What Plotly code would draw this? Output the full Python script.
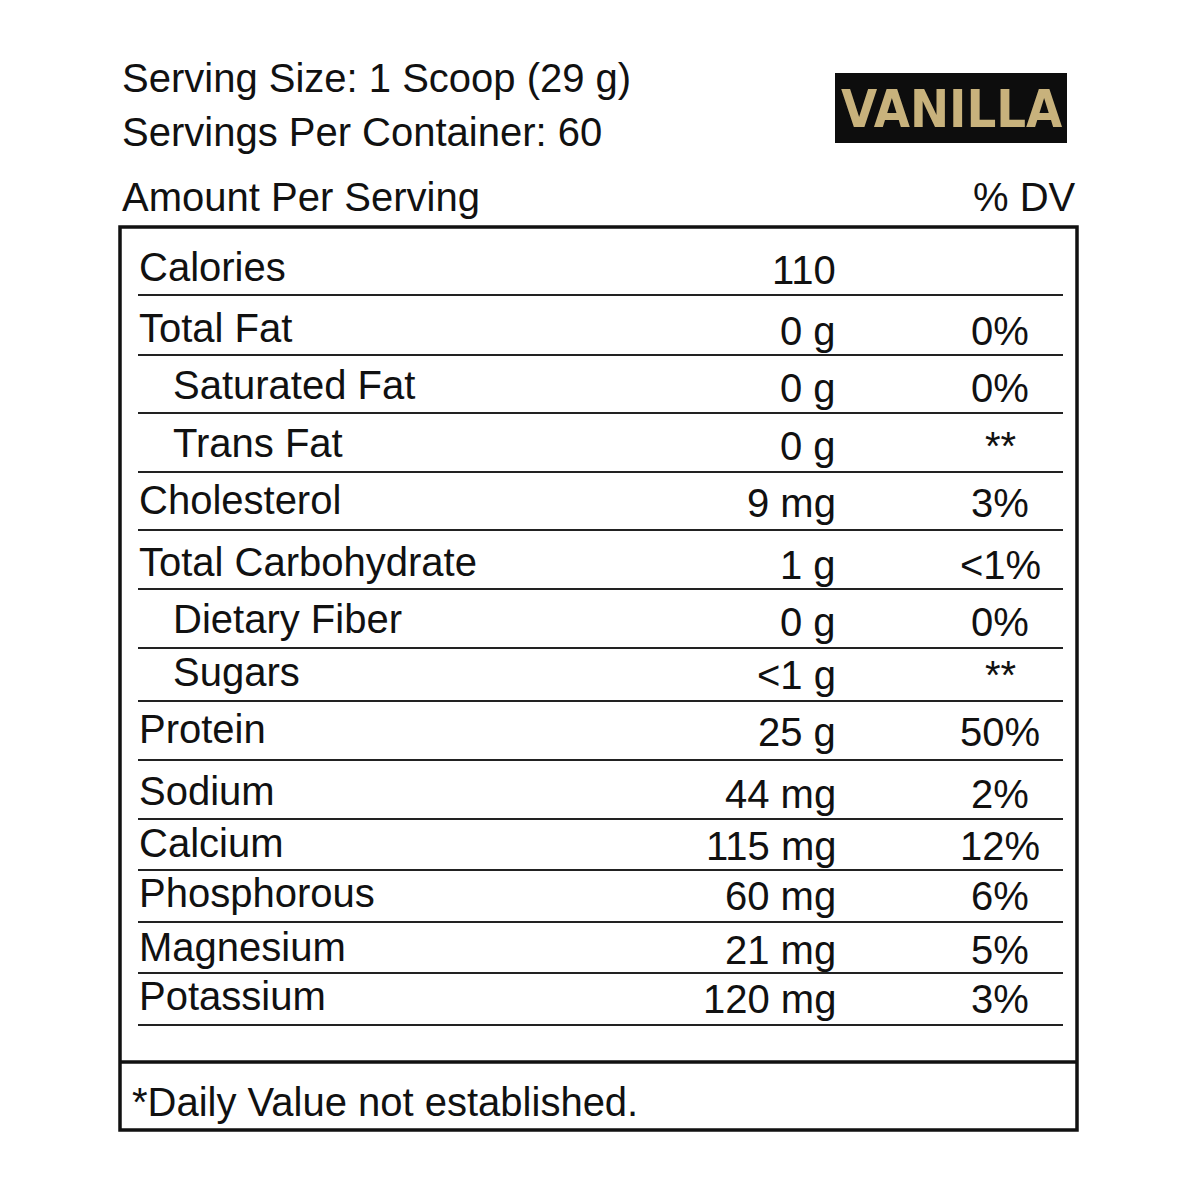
import plotly.graph_objects as go

nutrients = ["Calories", "Total Fat", "Saturated Fat", "Trans Fat", "Cholesterol",
             "Total Carbohydrate", "Dietary Fiber", "Sugars", "Protein", "Sodium",
             "Calcium", "Phosphorous", "Magnesium", "Potassium"]
amounts = ["110", "0 g", "0 g", "0 g", "9 mg", "1 g", "0 g", "<1 g", "25 g",
           "44 mg", "115 mg", "60 mg", "21 mg", "120 mg"]
daily_values = ["", "0%", "0%", "**", "3%", "<1%", "0%", "**", "50%", "2%",
                "12%", "6%", "5%", "3%"]

# layout (pixel positions)
indent = [0, 0, 1, 1, 0, 0, 1, 1, 0, 0, 0, 0, 0, 0]
row_y = [267, 328, 385, 443, 500, 562, 619, 672, 729, 791, 843, 893, 947, 996]
line_y = [295, 355, 413, 472, 530, 589, 648, 701, 760, 819, 870, 922, 973, 1025]
OFF = 8  # page body margin compensation

FONT = "Liberation Sans, Arial, sans-serif"
fig = go.Figure()
ann = []
shapes = []

def txt(x, y, s, anchor="left", size=40, color="#111"):
    ann.append(dict(x=x - OFF, y=y - OFF, xref="x", yref="y", text=s, showarrow=False,
                    xanchor=anchor, yanchor="middle",
                    font=dict(family=FONT, size=size, color=color)))

def rect(x0, x1, y0, y1, **kw):
    shapes.append(dict(type="rect", x0=x0 - OFF, x1=x1 - OFF, y0=y0 - OFF, y1=y1 - OFF,
                       xref="x", yref="y", **kw))

def hline(x0, x1, y, w, c="#111"):
    shapes.append(dict(type="line", x0=x0 - OFF, x1=x1 - OFF, y0=y - OFF, y1=y - OFF,
                       xref="x", yref="y", line=dict(color=c, width=w)))

txt(120, 78, "Serving Size: 1 Scoop (29 g)")
txt(120, 132, "Servings Per Container: 60")
txt(120, 197, "Amount Per Serving")
txt(1078, 197, "% DV", anchor="right")

rect(835, 1067, 73, 143, fillcolor="#0d0d0d", line=dict(width=0))
ann.append(dict(x=951 - OFF, y=109 - OFF, xref="x", yref="y", text="<b>VANILLA</b>",
                showarrow=False,
                font=dict(family="DejaVu Sans Condensed, Liberation Sans Narrow, sans-serif",
                          size=52, color="#c8b27c")))

rect(120, 1077, 227, 1130, line=dict(color="#111", width=3.5))
hline(120, 1077, 1062, 3.5)

for i, name in enumerate(nutrients):
    txt(137 + 34 * indent[i], row_y[i], name)
    txt(838, row_y[i] + 3, amounts[i], anchor="right")
    if daily_values[i]:
        txt(1000, row_y[i] + 3, daily_values[i], anchor="center")
    hline(138, 1063, line_y[i], 2, "#222")

txt(130, 1102, "*Daily Value not established.")

fig.update_layout(width=1200, height=1200, margin=dict(l=0, r=0, t=0, b=0),
                  paper_bgcolor="white", plot_bgcolor="white",
                  xaxis=dict(range=[0, 1200], visible=False, fixedrange=True),
                  yaxis=dict(range=[1200, 0], visible=False, fixedrange=True),
                  annotations=ann, shapes=shapes, showlegend=False)
fig.write_html("out.html")
